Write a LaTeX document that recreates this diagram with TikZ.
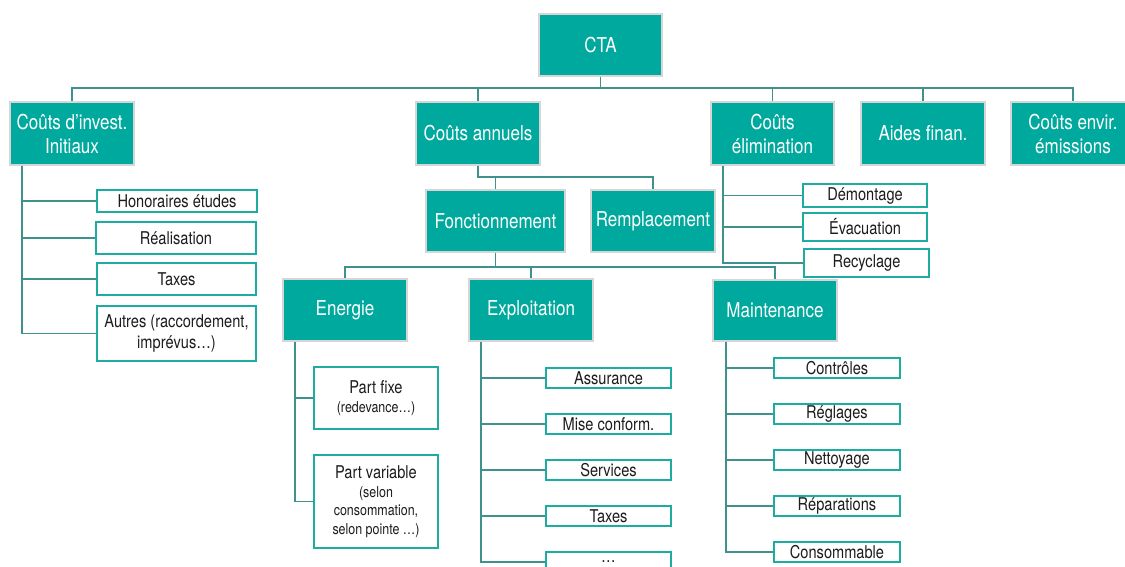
\documentclass[tikz,border=0pt]{standalone}
\usepackage{fontspec}
\setmainfont[FakeStretch=0.83]{TeX Gyre Heros}
\definecolor{tealfill}{HTML}{00A99D}
\definecolor{tealline}{HTML}{3F918C}
\definecolor{tealborder}{HTML}{1DACA1}
\definecolor{boxgray}{HTML}{D6D6D6}
\definecolor{txtdark}{HTML}{1C1C1C}
\begin{document}
\begin{tikzpicture}[x=1pt,y=-1pt,
  mainbox/.style={fill=tealfill,draw=boxgray,line width=1.3pt,text=white,
    font=\fontsize{20.5}{24}\selectfont,align=center,inner sep=0pt,
    minimum width=124pt,minimum height=62pt},
  subbox/.style={fill=white,draw=tealborder,line width=1.8pt,text=txtdark,
    font=\fontsize{17.6}{21}\selectfont,align=center,inner sep=0pt},
  conn/.style={draw=tealline,line width=1.5pt}]
\useasboundingbox (0,0) rectangle (1125,566);
\clip (0,0) rectangle (1125,566);
% ---- top levels
\node[mainbox,minimum width=123pt] (cta) at (600.5,45) {CTA};
\node[mainbox,minimum height=63pt] (inv) at (72,133.5) {Coûts d’invest.\\Initiaux};
\node[mainbox,minimum height=63pt] (ann) at (478,133.5) {Coûts annuels};
\node[mainbox,minimum height=63pt,minimum width=123pt] (elim) at (772.5,133.5) {Coûts\\élimination};
\node[mainbox,minimum height=63pt] (aides) at (923,133.5) {Aides finan.};
\node[mainbox,minimum height=63pt] (env) at (1073,133.5) {Coûts envir.\\émissions};
\node[mainbox,minimum width=139pt] (fonc) at (495.5,221) {Fonctionnement};
\node[mainbox] (remp) at (653,221) {Remplacement};
\node[mainbox] (ener) at (345,310) {Energie};
\node[mainbox] (expl) at (531,310) {Exploitation};
\node[mainbox,minimum height=61pt] (maint) at (775,310.5) {Maintenance};
% ---- coordinates for buses and spines
\coordinate (bus1) at (0,88);
\coordinate (bus2) at (0,177);
\coordinate (bus3) at (0,267);
\coordinate (spinv) at (22,0);
\coordinate (spel) at (723,0);
\coordinate (spen) at (295,0);
\coordinate (spex) at (481,0);
\coordinate (spma) at (726,0);
% ---- leaves: investissement
\node[subbox,minimum width=160pt,minimum height=22pt] (hon) at (177,201) {Honoraires études};
\node[subbox,minimum width=160pt,minimum height=32pt] (real) at (176,238) {Réalisation};
\node[subbox,minimum width=159pt,minimum height=32pt] (taxa) at (176.5,279) {Taxes};
\node[subbox,minimum width=159pt,minimum height=55pt] (autr) at (176.5,333.5) {Autres (raccordement,\\imprévus…)};
% ---- leaves: elimination
\node[subbox,minimum width=124pt,minimum height=23pt] (demo) at (865,195.5) {Démontage};
\node[subbox,minimum width=124pt,minimum height=28pt] (evac) at (865,227) {Évacuation};
\node[subbox,minimum width=125pt,minimum height=28pt] (recy) at (866.5,263) {Recyclage};
% ---- leaves: energie
\node[subbox,minimum width=124pt,minimum height=62pt,font=\fontsize{17.6}{19}\selectfont] (pfix) at (376,398)
  {Part fixe\\{\fontsize{15}{19}\selectfont (redevance…)}};
\node[subbox,minimum width=124pt,minimum height=93pt,font=\fontsize{17.6}{18.5}\selectfont] (pvar) at (376,501.5)
  {Part variable\\{\fontsize{15}{18}\selectfont (selon}\\{\fontsize{15}{18}\selectfont consommation,}\\{\fontsize{15}{18}\selectfont selon pointe …)}};
% ---- leaves: exploitation
\node[subbox,minimum width=125pt,minimum height=20pt] (assu) at (608.5,378) {Assurance};
\node[subbox,minimum width=125pt,minimum height=20pt] (mise) at (608.5,424) {Mise conform.};
\node[subbox,minimum width=125pt,minimum height=20pt] (serv) at (608.5,470) {Services};
\node[subbox,minimum width=125pt,minimum height=20pt] (taxb) at (608.5,516) {Taxes};
\node[subbox,minimum width=125pt,minimum height=20pt] (etc) at (608.5,562) {…};
% ---- leaves: maintenance
\node[subbox,minimum width=126pt,minimum height=20pt] (ctrl) at (837,368) {Contrôles};
\node[subbox,minimum width=126pt,minimum height=20pt] (regl) at (837,414) {Réglages};
\node[subbox,minimum width=126pt,minimum height=20pt] (nett) at (837,460) {Nettoyage};
\node[subbox,minimum width=126pt,minimum height=20pt] (repa) at (837,506) {Réparations};
\node[subbox,minimum width=126pt,minimum height=20pt] (cons) at (837,552) {Consommable};
% ---- connectors level 1
\draw[conn] (cta.south) -- (cta.south |- bus1) -| (inv.north);
\draw[conn] (cta.south |- bus1) -| (ann.north);
\draw[conn] (cta.south |- bus1) -| (elim.north);
\draw[conn] (cta.south |- bus1) -| (aides.north);
\draw[conn] (cta.south |- bus1) -| (env.north);
% ---- annual costs
\draw[conn] (ann.south) -- (ann.south |- bus2) -| (fonc.north);
\draw[conn] (ann.south |- bus2) -| (remp.north);
\draw[conn] (fonc.south) -- (fonc.south |- bus3) -| (ener.north);
\draw[conn] (fonc.south |- bus3) -| (expl.north);
\draw[conn] (fonc.south |- bus3) -| (maint.north);
% ---- spines
\draw[conn] (spinv |- inv.south) |- (autr.west);
\foreach \n in {hon,real,taxa} \draw[conn] (spinv |- \n.west) -- (\n.west);
\draw[conn] (spel |- elim.south) |- (recy.west);
\foreach \n in {demo,evac} \draw[conn] (spel |- \n.west) -- (\n.west);
\draw[conn] (spen |- ener.south) |- (pvar.west);
\draw[conn] (spen |- pfix.west) -- (pfix.west);
\draw[conn] (spex |- expl.south) |- (etc.west);
\foreach \n in {assu,mise,serv,taxb} \draw[conn] (spex |- \n.west) -- (\n.west);
\draw[conn] (spma |- maint.south) |- (cons.west);
\foreach \n in {ctrl,regl,nett,repa} \draw[conn] (spma |- \n.west) -- (\n.west);
\end{tikzpicture}
\end{document}
